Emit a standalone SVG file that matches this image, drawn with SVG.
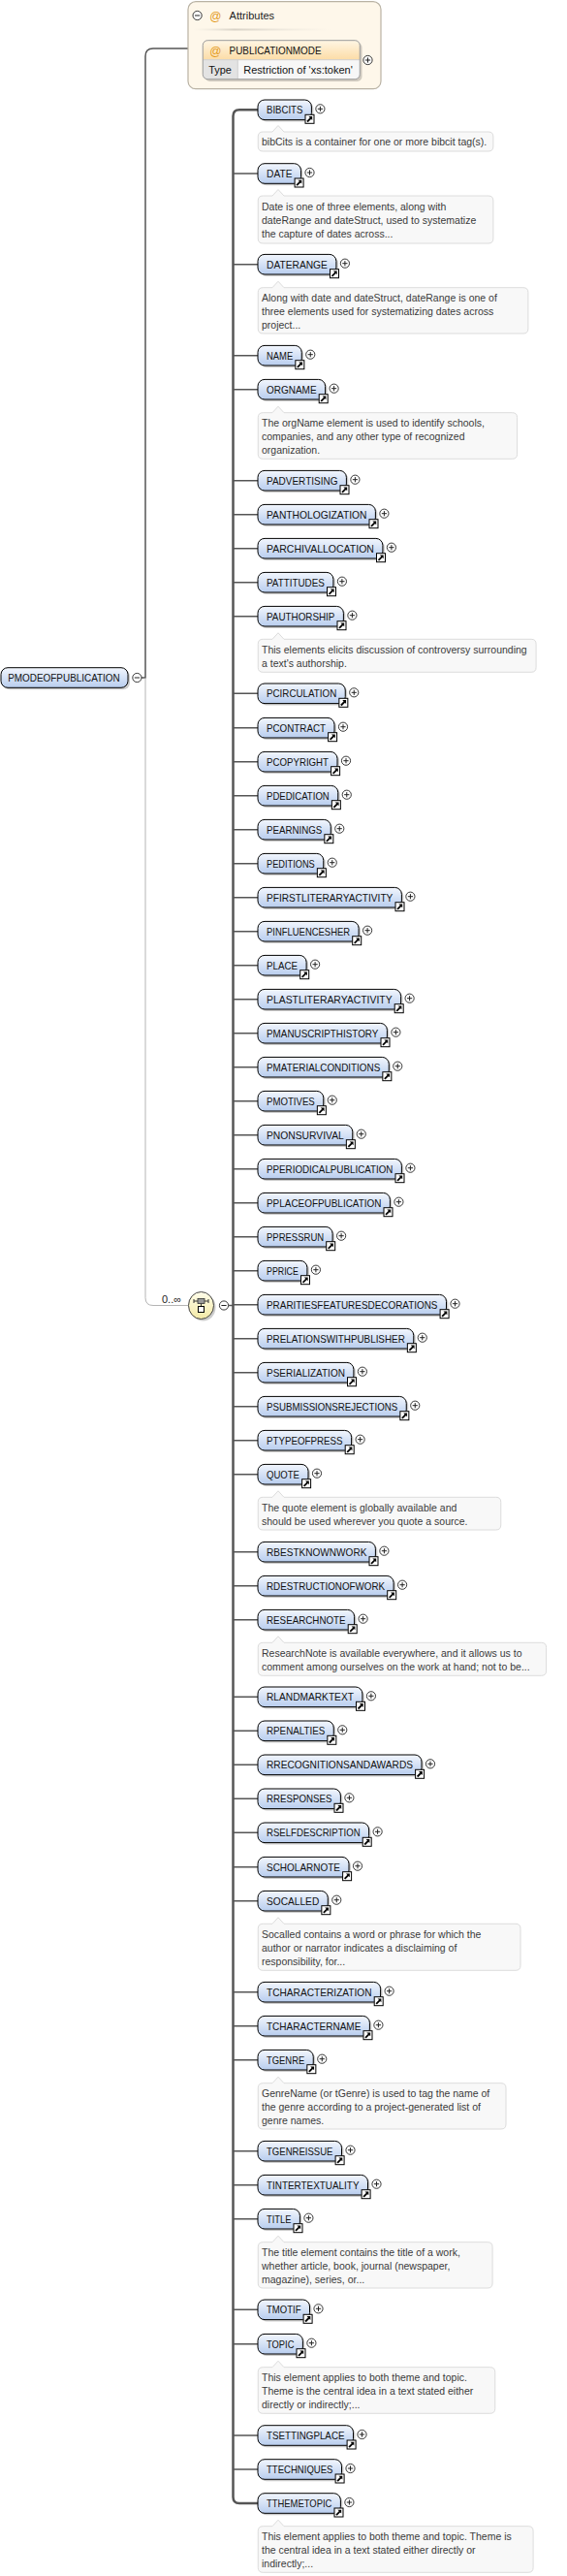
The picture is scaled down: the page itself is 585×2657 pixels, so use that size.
<svg xmlns="http://www.w3.org/2000/svg" xmlns:xlink="http://www.w3.org/1999/xlink" width="585" height="2657" viewBox="0 0 585 2657">
<style>
.box{fill:url(#nodeFill);stroke:#000;stroke-width:1}
.sh{fill:#000;opacity:.2}
.lbl{font-family:"Liberation Sans",Arial,sans-serif;font-size:11px;fill:#111}
.doc path{fill:#f8f8f8;stroke:#dcdcdc;stroke-width:1}
.doc text{font-family:"Liberation Sans",Arial,sans-serif;font-size:10.5px;fill:#3a3a3a}
.conn{fill:none;stroke:#555;stroke-width:1.5}
.bus{fill:none;stroke:#555;stroke-width:2.5}
.light{fill:none;stroke:#b4b4b4;stroke-width:1}
.small{font-family:"Liberation Sans",Arial,sans-serif;font-size:11px;fill:#222}
.at{font-family:"Liberation Sans",Arial,sans-serif;font-size:12px;fill:#e39a1c;text-anchor:middle}
</style>
<defs>
<linearGradient id="nodeFill" x1="0" y1="0" x2="0" y2="1">
<stop offset="0" stop-color="#f2f6fd"/>
<stop offset="1" stop-color="#b8cdee"/>
</linearGradient>
<linearGradient id="attrHead" x1="0" y1="0" x2="0" y2="1">
<stop offset="0" stop-color="#fff6e4"/>
<stop offset="1" stop-color="#fcdca6"/>
</linearGradient>
<linearGradient id="seqFill" x1="0" y1="0" x2="0" y2="1">
<stop offset="0" stop-color="#fffdea"/>
<stop offset="1" stop-color="#f3e9a6"/>
</linearGradient>
<linearGradient id="sep" x1="0" y1="0" x2="1" y2="0">
<stop offset="0" stop-color="#e8e4dc" stop-opacity="0"/>
<stop offset=".3" stop-color="#d8d2c6"/>
<stop offset="1" stop-color="#e8e4dc" stop-opacity="0"/>
</linearGradient>
<g id="link"><rect width="9" height="9" fill="#fff" stroke="#000" stroke-width="1"/><path d="M2 7.2L6 3.2" stroke="#000" stroke-width="1.8"/><path d="M3.4 1.8H7.2V5.6Z" fill="#000"/></g>
<g id="plus"><circle r="4.6" fill="#fff" stroke="#222" stroke-width=".9"/><path d="M-2.6 0H2.6M0 -2.6V2.6" stroke="#222" stroke-width="1"/></g>
<g id="minus"><circle r="4.6" fill="#fff" stroke="#222" stroke-width=".9"/><path d="M-2.6 0H2.6" stroke="#222" stroke-width="1"/></g>
</defs>
<rect width="585" height="2657" fill="#fff"/>

<g id="connectors">
<path class="conn" d="M146 699H150V58Q150 50 158 50H194"/>
<path class="light" d="M150 699V1338.5Q150 1346.5 158 1346.5H194"/>
<path class="bus" d="M266 113.3H247Q240.5 113.3 240.5 119.8V2575.5Q240.5 2582 247 2582H266"/>
<path class="conn" d="M235.5 1346.5H240.5"/>
<path class="conn" d="M240.5 179H266M240.5 272.7H266M240.5 366.7H266M240.5 401.7H266M240.5 495.7H266M240.5 530.7H266M240.5 565.7H266M240.5 600.7H266M240.5 635.7H266M240.5 715.3H266M240.5 750.7H266M240.5 785.7H266M240.5 820.7H266M240.5 855.7H266M240.5 890.7H266M240.5 925.7H266M240.5 960.7H266M240.5 995.7H266M240.5 1030.7H266M240.5 1065.7H266M240.5 1100.7H266M240.5 1135.7H266M240.5 1170.7H266M240.5 1205.7H266M240.5 1240.7H266M240.5 1275.7H266M240.5 1310.7H266M240.5 1345.7H266M240.5 1380.7H266M240.5 1415.7H266M240.5 1450.7H266M240.5 1485.7H266M240.5 1520.7H266M240.5 1600.7H266M240.5 1635.7H266M240.5 1670.7H266M240.5 1750.3H266M240.5 1785.3H266M240.5 1820.3H266M240.5 1855.3H266M240.5 1890.3H266M240.5 1925.7H266M240.5 1960.7H266M240.5 2054.7H266M240.5 2089.7H266M240.5 2124.7H266M240.5 2218.7H266M240.5 2253.7H266M240.5 2288.7H266M240.5 2382.3H266M240.5 2417.7H266M240.5 2512H266M240.5 2547H266"/>
<text class="small" x="167" y="1343.5" font-size="10.5">0..∞</text>
</g>

<g id="attributes">
<rect x="194" y="1.7" width="199" height="90" rx="8" fill="#fef7ea" stroke="#b9b2a4" stroke-width="1.2"/>
<use href="#minus" x="203.6" y="16"/>
<text class="at" x="222.4" y="20.5">@</text>
<text class="small" x="236.6" y="20">Attributes</text>
<rect x="199" y="29.5" width="142" height="2" fill="url(#sep)"/>
<g id="attr-PUBLICATIONMODE">
<rect x="211.5" y="44" width="162" height="40" rx="5" fill="#000" opacity=".18"/>
<rect x="209.25" y="41.7" width="162" height="40" rx="5" fill="#f7f7f7"/>
<path d="M209.25 61.7V46.7Q209.25 41.7 214.25 41.7H366.25Q371.25 41.7 371.25 46.7V61.7Z" fill="url(#attrHead)"/>
<path d="M209.25 61.7H245.25V81.7H214.25Q209.25 81.7 209.25 76.7Z" fill="#e3e3e3"/>
<path d="M209.25 61.7H371.25M245.25 61.7V81.7" stroke="#cfcfcf" stroke-width="1" fill="none"/>
<rect x="209.25" y="41.7" width="162" height="40" rx="5" fill="none" stroke="#9a9a9a" stroke-width="1"/>
<text class="at" x="222.4" y="56.5">@</text>
<text class="lbl" x="236.6" y="56" textLength="94.9" lengthAdjust="spacingAndGlyphs">PUBLICATIONMODE</text>
<text class="lbl" x="215.25" y="76" textLength="23.6" lengthAdjust="spacingAndGlyphs">Type</text>
<text class="lbl" x="251.25" y="76" textLength="112.5" lengthAdjust="spacingAndGlyphs">Restriction of 'xs:token'</text>
<use href="#plus" x="379.5" y="62"/>
</g>
</g>

<g id="n-PMODEOFPUBLICATION">
<rect class="sh" x="3" y="690.7" width="131" height="20.6" rx="7"/>
<rect class="box" x="1" y="688.7" width="131" height="20.6" rx="7"/>
<text class="lbl" x="8.25" y="703" textLength="115.5" lengthAdjust="spacingAndGlyphs">PMODEOFPUBLICATION</text>
<use href="#minus" x="141.4" y="699"/>
</g>

<g id="sequence">
<ellipse cx="209.5" cy="1348.5" rx="13" ry="14" fill="#000" opacity=".2"/>
<ellipse cx="207.5" cy="1346.5" rx="13" ry="14" fill="url(#seqFill)" stroke="#444" stroke-width="1"/>
<path d="M200 1342H215M200 1340V1344M215 1340V1344M207.5 1344.5V1347.5" stroke="#333" stroke-width="1" fill="none"/>
<rect x="204" y="1339.5" width="7" height="5" fill="#999" stroke="#333" stroke-width=".8"/>
<rect x="204.5" y="1347.5" width="6" height="6" fill="#fff" stroke="#000" stroke-width="1"/>
<use href="#minus" x="231" y="1346.5"/>
</g>

<g id="n-BIBCITS"><rect class="sh" x="268" y="105" width="55.4" height="20.6" rx="7"/><rect class="box" x="266" y="103" width="55.4" height="20.6" rx="7"/><text class="lbl" x="275" y="117.3" textLength="37.4" lengthAdjust="spacingAndGlyphs">BIBCITS</text><use href="#link" x="315" y="118.3"/><use href="#plus" x="330.4" y="112.3"/>
<g class="doc"><path d="M271.25 136H281L287 129.5L293 136H503.9Q508.9 136 508.9 141V151Q508.9 156 503.9 156H271.25Q266.25 156 266.25 151V141Q266.25 136 271.25 136Z"/><text x="270" y="150.2">bibCits is a container for one or more bibcit tag(s).</text></g></g>

<g id="n-DATE"><rect class="sh" x="268" y="170.7" width="44.5" height="20.6" rx="7"/><rect class="box" x="266" y="168.7" width="44.5" height="20.6" rx="7"/><text class="lbl" x="275" y="183" textLength="26.5" lengthAdjust="spacingAndGlyphs">DATE</text><use href="#link" x="304.1" y="184"/><use href="#plus" x="319.5" y="178"/>
<g class="doc"><path d="M271.25 202H281L287 195.5L293 202H503.9Q508.9 202 508.9 207V246Q508.9 251 503.9 251H271.25Q266.25 251 266.25 246V207Q266.25 202 271.25 202Z"/><text x="270" y="216.5">Date is one of three elements, along with</text><text x="270" y="230.5">dateRange and dateStruct, used to systematize</text><text x="270" y="244.5">the capture of dates across...</text></g></g>

<g id="n-DATERANGE"><rect class="sh" x="268" y="264.4" width="80.9" height="20.6" rx="7"/><rect class="box" x="266" y="262.4" width="80.9" height="20.6" rx="7"/><text class="lbl" x="275" y="276.7" textLength="62.9" lengthAdjust="spacingAndGlyphs">DATERANGE</text><use href="#link" x="340.5" y="277.7"/><use href="#plus" x="355.9" y="271.7"/>
<g class="doc"><path d="M271.25 296.7H281L287 290.2L293 296.7H539.9Q544.9 296.7 544.9 301.7V339Q544.9 344 539.9 344H271.25Q266.25 344 266.25 339V301.7Q266.25 296.7 271.25 296.7Z"/><text x="270" y="311.2">Along with date and dateStruct, dateRange is one of</text><text x="270" y="325.2">three elements used for systematizing dates across</text><text x="270" y="339.2">project...</text></g></g>

<g id="n-NAME"><rect class="sh" x="268" y="358.4" width="45.25" height="20.6" rx="7"/><rect class="box" x="266" y="356.4" width="45.25" height="20.6" rx="7"/><text class="lbl" x="275" y="370.7" textLength="27.25" lengthAdjust="spacingAndGlyphs">NAME</text><use href="#link" x="304.85" y="371.7"/><use href="#plus" x="320.25" y="365.7"/></g>

<g id="n-ORGNAME"><rect class="sh" x="268" y="393.4" width="69.6" height="20.6" rx="7"/><rect class="box" x="266" y="391.4" width="69.6" height="20.6" rx="7"/><text class="lbl" x="275" y="405.7" textLength="51.6" lengthAdjust="spacingAndGlyphs">ORGNAME</text><use href="#link" x="329.2" y="406.7"/><use href="#plus" x="344.6" y="400.7"/>
<g class="doc"><path d="M271.25 425.7H281L287 419.2L293 425.7H528.6Q533.6 425.7 533.6 430.7V468.3Q533.6 473.3 528.6 473.3H271.25Q266.25 473.3 266.25 468.3V430.7Q266.25 425.7 271.25 425.7Z"/><text x="270" y="440.2">The orgName element is used to identify schools,</text><text x="270" y="454.2">companies, and any other type of recognized</text><text x="270" y="468.2">organization.</text></g></g>

<g id="n-PADVERTISING"><rect class="sh" x="268" y="487.4" width="91.4" height="20.6" rx="7"/><rect class="box" x="266" y="485.4" width="91.4" height="20.6" rx="7"/><text class="lbl" x="275" y="499.7" textLength="73.4" lengthAdjust="spacingAndGlyphs">PADVERTISING</text><use href="#link" x="351" y="500.7"/><use href="#plus" x="366.4" y="494.7"/></g>

<g id="n-PANTHOLOGIZATION"><rect class="sh" x="268" y="522.4" width="121.4" height="20.6" rx="7"/><rect class="box" x="266" y="520.4" width="121.4" height="20.6" rx="7"/><text class="lbl" x="275" y="534.7" textLength="103.4" lengthAdjust="spacingAndGlyphs">PANTHOLOGIZATION</text><use href="#link" x="381" y="535.7"/><use href="#plus" x="396.4" y="529.7"/></g>

<g id="n-PARCHIVALLOCATION"><rect class="sh" x="268" y="557.4" width="128.9" height="20.6" rx="7"/><rect class="box" x="266" y="555.4" width="128.9" height="20.6" rx="7"/><text class="lbl" x="275" y="569.7" textLength="110.9" lengthAdjust="spacingAndGlyphs">PARCHIVALLOCATION</text><use href="#link" x="388.5" y="570.7"/><use href="#plus" x="403.9" y="564.7"/></g>

<g id="n-PATTITUDES"><rect class="sh" x="268" y="592.4" width="77.9" height="20.6" rx="7"/><rect class="box" x="266" y="590.4" width="77.9" height="20.6" rx="7"/><text class="lbl" x="275" y="604.7" textLength="59.9" lengthAdjust="spacingAndGlyphs">PATTITUDES</text><use href="#link" x="337.5" y="605.7"/><use href="#plus" x="352.9" y="599.7"/></g>

<g id="n-PAUTHORSHIP"><rect class="sh" x="268" y="627.4" width="88.4" height="20.6" rx="7"/><rect class="box" x="266" y="625.4" width="88.4" height="20.6" rx="7"/><text class="lbl" x="275" y="639.7" textLength="70.4" lengthAdjust="spacingAndGlyphs">PAUTHORSHIP</text><use href="#link" x="348" y="640.7"/><use href="#plus" x="363.4" y="634.7"/>
<g class="doc"><path d="M271.25 659.3H281L287 652.8L293 659.3H548.1Q553.1 659.3 553.1 664.3V688.3Q553.1 693.3 548.1 693.3H271.25Q266.25 693.3 266.25 688.3V664.3Q266.25 659.3 271.25 659.3Z"/><text x="270" y="673.8">This elements elicits discussion of controversy surrounding</text><text x="270" y="687.8">a text's authorship.</text></g></g>

<g id="n-PCIRCULATION"><rect class="sh" x="268" y="707" width="90.25" height="20.6" rx="7"/><rect class="box" x="266" y="705" width="90.25" height="20.6" rx="7"/><text class="lbl" x="275" y="719.3" textLength="72.25" lengthAdjust="spacingAndGlyphs">PCIRCULATION</text><use href="#link" x="349.85" y="720.3"/><use href="#plus" x="365.25" y="714.3"/></g>

<g id="n-PCONTRACT"><rect class="sh" x="268" y="742.4" width="79" height="20.6" rx="7"/><rect class="box" x="266" y="740.4" width="79" height="20.6" rx="7"/><text class="lbl" x="275" y="754.7" textLength="61" lengthAdjust="spacingAndGlyphs">PCONTRACT</text><use href="#link" x="338.6" y="755.7"/><use href="#plus" x="354" y="749.7"/></g>

<g id="n-PCOPYRIGHT"><rect class="sh" x="268" y="777.4" width="82" height="20.6" rx="7"/><rect class="box" x="266" y="775.4" width="82" height="20.6" rx="7"/><text class="lbl" x="275" y="789.7" textLength="64" lengthAdjust="spacingAndGlyphs">PCOPYRIGHT</text><use href="#link" x="341.6" y="790.7"/><use href="#plus" x="357" y="784.7"/></g>

<g id="n-PDEDICATION"><rect class="sh" x="268" y="812.4" width="82.75" height="20.6" rx="7"/><rect class="box" x="266" y="810.4" width="82.75" height="20.6" rx="7"/><text class="lbl" x="275" y="824.7" textLength="64.75" lengthAdjust="spacingAndGlyphs">PDEDICATION</text><use href="#link" x="342.35" y="825.7"/><use href="#plus" x="357.75" y="819.7"/></g>

<g id="n-PEARNINGS"><rect class="sh" x="268" y="847.4" width="75.25" height="20.6" rx="7"/><rect class="box" x="266" y="845.4" width="75.25" height="20.6" rx="7"/><text class="lbl" x="275" y="859.7" textLength="57.25" lengthAdjust="spacingAndGlyphs">PEARNINGS</text><use href="#link" x="334.85" y="860.7"/><use href="#plus" x="350.25" y="854.7"/></g>

<g id="n-PEDITIONS"><rect class="sh" x="268" y="882.4" width="67.75" height="20.6" rx="7"/><rect class="box" x="266" y="880.4" width="67.75" height="20.6" rx="7"/><text class="lbl" x="275" y="894.7" textLength="49.75" lengthAdjust="spacingAndGlyphs">PEDITIONS</text><use href="#link" x="327.35" y="895.7"/><use href="#plus" x="342.75" y="889.7"/></g>

<g id="n-PFIRSTLITERARYACTIVITY"><rect class="sh" x="268" y="917.4" width="148.4" height="20.6" rx="7"/><rect class="box" x="266" y="915.4" width="148.4" height="20.6" rx="7"/><text class="lbl" x="275" y="929.7" textLength="130.4" lengthAdjust="spacingAndGlyphs">PFIRSTLITERARYACTIVITY</text><use href="#link" x="408" y="930.7"/><use href="#plus" x="423.4" y="924.7"/></g>

<g id="n-PINFLUENCESHER"><rect class="sh" x="268" y="952.4" width="104.1" height="20.6" rx="7"/><rect class="box" x="266" y="950.4" width="104.1" height="20.6" rx="7"/><text class="lbl" x="275" y="964.7" textLength="86.1" lengthAdjust="spacingAndGlyphs">PINFLUENCESHER</text><use href="#link" x="363.7" y="965.7"/><use href="#plus" x="379.1" y="959.7"/></g>

<g id="n-PLACE"><rect class="sh" x="268" y="987.4" width="50.1" height="20.6" rx="7"/><rect class="box" x="266" y="985.4" width="50.1" height="20.6" rx="7"/><text class="lbl" x="275" y="999.7" textLength="32.1" lengthAdjust="spacingAndGlyphs">PLACE</text><use href="#link" x="309.7" y="1000.7"/><use href="#plus" x="325.1" y="994.7"/></g>

<g id="n-PLASTLITERARYACTIVITY"><rect class="sh" x="268" y="1022.4" width="147.6" height="20.6" rx="7"/><rect class="box" x="266" y="1020.4" width="147.6" height="20.6" rx="7"/><text class="lbl" x="275" y="1034.7" textLength="129.6" lengthAdjust="spacingAndGlyphs">PLASTLITERARYACTIVITY</text><use href="#link" x="407.2" y="1035.7"/><use href="#plus" x="422.6" y="1029.7"/></g>

<g id="n-PMANUSCRIPTHISTORY"><rect class="sh" x="268" y="1057.4" width="133.4" height="20.6" rx="7"/><rect class="box" x="266" y="1055.4" width="133.4" height="20.6" rx="7"/><text class="lbl" x="275" y="1069.7" textLength="115.4" lengthAdjust="spacingAndGlyphs">PMANUSCRIPTHISTORY</text><use href="#link" x="393" y="1070.7"/><use href="#plus" x="408.4" y="1064.7"/></g>

<g id="n-PMATERIALCONDITIONS"><rect class="sh" x="268" y="1092.4" width="135.25" height="20.6" rx="7"/><rect class="box" x="266" y="1090.4" width="135.25" height="20.6" rx="7"/><text class="lbl" x="275" y="1104.7" textLength="117.25" lengthAdjust="spacingAndGlyphs">PMATERIALCONDITIONS</text><use href="#link" x="394.85" y="1105.7"/><use href="#plus" x="410.25" y="1099.7"/></g>

<g id="n-PMOTIVES"><rect class="sh" x="268" y="1127.4" width="67.75" height="20.6" rx="7"/><rect class="box" x="266" y="1125.4" width="67.75" height="20.6" rx="7"/><text class="lbl" x="275" y="1139.7" textLength="49.75" lengthAdjust="spacingAndGlyphs">PMOTIVES</text><use href="#link" x="327.35" y="1140.7"/><use href="#plus" x="342.75" y="1134.7"/></g>

<g id="n-PNONSURVIVAL"><rect class="sh" x="268" y="1162.4" width="97.75" height="20.6" rx="7"/><rect class="box" x="266" y="1160.4" width="97.75" height="20.6" rx="7"/><text class="lbl" x="275" y="1174.7" textLength="79.75" lengthAdjust="spacingAndGlyphs">PNONSURVIVAL</text><use href="#link" x="357.35" y="1175.7"/><use href="#plus" x="372.75" y="1169.7"/></g>

<g id="n-PPERIODICALPUBLICATION"><rect class="sh" x="268" y="1197.4" width="148.4" height="20.6" rx="7"/><rect class="box" x="266" y="1195.4" width="148.4" height="20.6" rx="7"/><text class="lbl" x="275" y="1209.7" textLength="130.4" lengthAdjust="spacingAndGlyphs">PPERIODICALPUBLICATION</text><use href="#link" x="408" y="1210.7"/><use href="#plus" x="423.4" y="1204.7"/></g>

<g id="n-PPLACEOFPUBLICATION"><rect class="sh" x="268" y="1232.4" width="136.4" height="20.6" rx="7"/><rect class="box" x="266" y="1230.4" width="136.4" height="20.6" rx="7"/><text class="lbl" x="275" y="1244.7" textLength="118.4" lengthAdjust="spacingAndGlyphs">PPLACEOFPUBLICATION</text><use href="#link" x="396" y="1245.7"/><use href="#plus" x="411.4" y="1239.7"/></g>

<g id="n-PPRESSRUN"><rect class="sh" x="268" y="1267.4" width="77.1" height="20.6" rx="7"/><rect class="box" x="266" y="1265.4" width="77.1" height="20.6" rx="7"/><text class="lbl" x="275" y="1279.7" textLength="59.1" lengthAdjust="spacingAndGlyphs">PPRESSRUN</text><use href="#link" x="336.7" y="1280.7"/><use href="#plus" x="352.1" y="1274.7"/></g>

<g id="n-PPRICE"><rect class="sh" x="268" y="1302.4" width="50.9" height="20.6" rx="7"/><rect class="box" x="266" y="1300.4" width="50.9" height="20.6" rx="7"/><text class="lbl" x="275" y="1314.7" textLength="32.9" lengthAdjust="spacingAndGlyphs">PPRICE</text><use href="#link" x="310.5" y="1315.7"/><use href="#plus" x="325.9" y="1309.7"/></g>

<g id="n-PRARITIESFEATURESDECORATIONS"><rect class="sh" x="268" y="1337.4" width="194.5" height="20.6" rx="7"/><rect class="box" x="266" y="1335.4" width="194.5" height="20.6" rx="7"/><text class="lbl" x="275" y="1349.7" textLength="176.5" lengthAdjust="spacingAndGlyphs">PRARITIESFEATURESDECORATIONS</text><use href="#link" x="454.1" y="1350.7"/><use href="#plus" x="469.5" y="1344.7"/></g>

<g id="n-PRELATIONSWITHPUBLISHER"><rect class="sh" x="268" y="1372.4" width="160.75" height="20.6" rx="7"/><rect class="box" x="266" y="1370.4" width="160.75" height="20.6" rx="7"/><text class="lbl" x="275" y="1384.7" textLength="142.75" lengthAdjust="spacingAndGlyphs">PRELATIONSWITHPUBLISHER</text><use href="#link" x="420.35" y="1385.7"/><use href="#plus" x="435.75" y="1379.7"/></g>

<g id="n-PSERIALIZATION"><rect class="sh" x="268" y="1407.4" width="98.9" height="20.6" rx="7"/><rect class="box" x="266" y="1405.4" width="98.9" height="20.6" rx="7"/><text class="lbl" x="275" y="1419.7" textLength="80.9" lengthAdjust="spacingAndGlyphs">PSERIALIZATION</text><use href="#link" x="358.5" y="1420.7"/><use href="#plus" x="373.9" y="1414.7"/></g>

<g id="n-PSUBMISSIONSREJECTIONS"><rect class="sh" x="268" y="1442.4" width="153.25" height="20.6" rx="7"/><rect class="box" x="266" y="1440.4" width="153.25" height="20.6" rx="7"/><text class="lbl" x="275" y="1454.7" textLength="135.25" lengthAdjust="spacingAndGlyphs">PSUBMISSIONSREJECTIONS</text><use href="#link" x="412.85" y="1455.7"/><use href="#plus" x="428.25" y="1449.7"/></g>

<g id="n-PTYPEOFPRESS"><rect class="sh" x="268" y="1477.4" width="96.6" height="20.6" rx="7"/><rect class="box" x="266" y="1475.4" width="96.6" height="20.6" rx="7"/><text class="lbl" x="275" y="1489.7" textLength="78.6" lengthAdjust="spacingAndGlyphs">PTYPEOFPRESS</text><use href="#link" x="356.2" y="1490.7"/><use href="#plus" x="371.6" y="1484.7"/></g>

<g id="n-QUOTE"><rect class="sh" x="268" y="1512.4" width="52" height="20.6" rx="7"/><rect class="box" x="266" y="1510.4" width="52" height="20.6" rx="7"/><text class="lbl" x="275" y="1524.7" textLength="34" lengthAdjust="spacingAndGlyphs">QUOTE</text><use href="#link" x="311.6" y="1525.7"/><use href="#plus" x="327" y="1519.7"/>
<g class="doc"><path d="M271.25 1544.3H281L287 1537.8L293 1544.3H511.75Q516.75 1544.3 516.75 1549.3V1573Q516.75 1578 511.75 1578H271.25Q266.25 1578 266.25 1573V1549.3Q266.25 1544.3 271.25 1544.3Z"/><text x="270" y="1558.8">The quote element is globally available and</text><text x="270" y="1572.8">should be used wherever you quote a source.</text></g></g>

<g id="n-RBESTKNOWNWORK"><rect class="sh" x="268" y="1592.4" width="121.4" height="20.6" rx="7"/><rect class="box" x="266" y="1590.4" width="121.4" height="20.6" rx="7"/><text class="lbl" x="275" y="1604.7" textLength="103.4" lengthAdjust="spacingAndGlyphs">RBESTKNOWNWORK</text><use href="#link" x="381" y="1605.7"/><use href="#plus" x="396.4" y="1599.7"/></g>

<g id="n-RDESTRUCTIONOFWORK"><rect class="sh" x="268" y="1627.4" width="140.1" height="20.6" rx="7"/><rect class="box" x="266" y="1625.4" width="140.1" height="20.6" rx="7"/><text class="lbl" x="275" y="1639.7" textLength="122.1" lengthAdjust="spacingAndGlyphs">RDESTRUCTIONOFWORK</text><use href="#link" x="399.7" y="1640.7"/><use href="#plus" x="415.1" y="1634.7"/></g>

<g id="n-RESEARCHNOTE"><rect class="sh" x="268" y="1662.4" width="99.6" height="20.6" rx="7"/><rect class="box" x="266" y="1660.4" width="99.6" height="20.6" rx="7"/><text class="lbl" x="275" y="1674.7" textLength="81.6" lengthAdjust="spacingAndGlyphs">RESEARCHNOTE</text><use href="#link" x="359.2" y="1675.7"/><use href="#plus" x="374.6" y="1669.7"/>
<g class="doc"><path d="M271.25 1694.3H281L287 1687.8L293 1694.3H558.6Q563.6 1694.3 563.6 1699.3V1723.3Q563.6 1728.3 558.6 1728.3H271.25Q266.25 1728.3 266.25 1723.3V1699.3Q266.25 1694.3 271.25 1694.3Z"/><text x="270" y="1708.8">ResearchNote is available everywhere, and it allows us to</text><text x="270" y="1722.8">comment among ourselves on the work at hand; not to be...</text></g></g>

<g id="n-RLANDMARKTEXT"><rect class="sh" x="268" y="1742" width="107.9" height="20.6" rx="7"/><rect class="box" x="266" y="1740" width="107.9" height="20.6" rx="7"/><text class="lbl" x="275" y="1754.3" textLength="89.9" lengthAdjust="spacingAndGlyphs">RLANDMARKTEXT</text><use href="#link" x="367.5" y="1755.3"/><use href="#plus" x="382.9" y="1749.3"/></g>

<g id="n-RPENALTIES"><rect class="sh" x="268" y="1777" width="78.25" height="20.6" rx="7"/><rect class="box" x="266" y="1775" width="78.25" height="20.6" rx="7"/><text class="lbl" x="275" y="1789.3" textLength="60.25" lengthAdjust="spacingAndGlyphs">RPENALTIES</text><use href="#link" x="337.85" y="1790.3"/><use href="#plus" x="353.25" y="1784.3"/></g>

<g id="n-RRECOGNITIONSANDAWARDS"><rect class="sh" x="268" y="1812" width="169" height="20.6" rx="7"/><rect class="box" x="266" y="1810" width="169" height="20.6" rx="7"/><text class="lbl" x="275" y="1824.3" textLength="151" lengthAdjust="spacingAndGlyphs">RRECOGNITIONSANDAWARDS</text><use href="#link" x="428.6" y="1825.3"/><use href="#plus" x="444" y="1819.3"/></g>

<g id="n-RRESPONSES"><rect class="sh" x="268" y="1847" width="85.4" height="20.6" rx="7"/><rect class="box" x="266" y="1845" width="85.4" height="20.6" rx="7"/><text class="lbl" x="275" y="1859.3" textLength="67.4" lengthAdjust="spacingAndGlyphs">RRESPONSES</text><use href="#link" x="345" y="1860.3"/><use href="#plus" x="360.4" y="1854.3"/></g>

<g id="n-RSELFDESCRIPTION"><rect class="sh" x="268" y="1882" width="114.6" height="20.6" rx="7"/><rect class="box" x="266" y="1880" width="114.6" height="20.6" rx="7"/><text class="lbl" x="275" y="1894.3" textLength="96.6" lengthAdjust="spacingAndGlyphs">RSELFDESCRIPTION</text><use href="#link" x="374.2" y="1895.3"/><use href="#plus" x="389.6" y="1889.3"/></g>

<g id="n-SCHOLARNOTE"><rect class="sh" x="268" y="1917.4" width="94" height="20.6" rx="7"/><rect class="box" x="266" y="1915.4" width="94" height="20.6" rx="7"/><text class="lbl" x="275" y="1929.7" textLength="76" lengthAdjust="spacingAndGlyphs">SCHOLARNOTE</text><use href="#link" x="353.6" y="1930.7"/><use href="#plus" x="369" y="1924.7"/></g>

<g id="n-SOCALLED"><rect class="sh" x="268" y="1952.4" width="72.25" height="20.6" rx="7"/><rect class="box" x="266" y="1950.4" width="72.25" height="20.6" rx="7"/><text class="lbl" x="275" y="1964.7" textLength="54.25" lengthAdjust="spacingAndGlyphs">SOCALLED</text><use href="#link" x="331.85" y="1965.7"/><use href="#plus" x="347.25" y="1959.7"/>
<g class="doc"><path d="M271.25 1984.3H281L287 1977.8L293 1984.3H532Q537 1984.3 537 1989.3V2027.3Q537 2032.3 532 2032.3H271.25Q266.25 2032.3 266.25 2027.3V1989.3Q266.25 1984.3 271.25 1984.3Z"/><text x="270" y="1998.8">Socalled contains a word or phrase for which the</text><text x="270" y="2012.8">author or narrator indicates a disclaiming of</text><text x="270" y="2026.8">responsibility, for...</text></g></g>

<g id="n-TCHARACTERIZATION"><rect class="sh" x="268" y="2046.4" width="126.6" height="20.6" rx="7"/><rect class="box" x="266" y="2044.4" width="126.6" height="20.6" rx="7"/><text class="lbl" x="275" y="2058.7" textLength="108.6" lengthAdjust="spacingAndGlyphs">TCHARACTERIZATION</text><use href="#link" x="386.2" y="2059.7"/><use href="#plus" x="401.6" y="2053.7"/></g>

<g id="n-TCHARACTERNAME"><rect class="sh" x="268" y="2081.4" width="115.4" height="20.6" rx="7"/><rect class="box" x="266" y="2079.4" width="115.4" height="20.6" rx="7"/><text class="lbl" x="275" y="2093.7" textLength="97.4" lengthAdjust="spacingAndGlyphs">TCHARACTERNAME</text><use href="#link" x="375" y="2094.7"/><use href="#plus" x="390.4" y="2088.7"/></g>

<g id="n-TGENRE"><rect class="sh" x="268" y="2116.4" width="57.25" height="20.6" rx="7"/><rect class="box" x="266" y="2114.4" width="57.25" height="20.6" rx="7"/><text class="lbl" x="275" y="2128.7" textLength="39.25" lengthAdjust="spacingAndGlyphs">TGENRE</text><use href="#link" x="316.85" y="2129.7"/><use href="#plus" x="332.25" y="2123.7"/>
<g class="doc"><path d="M271.25 2148.7H281L287 2142.2L293 2148.7H517Q522 2148.7 522 2153.7V2191Q522 2196 517 2196H271.25Q266.25 2196 266.25 2191V2153.7Q266.25 2148.7 271.25 2148.7Z"/><text x="270" y="2163.2">GenreName (or tGenre) is used to tag the name of</text><text x="270" y="2177.2">the genre according to a project-generated list of</text><text x="270" y="2191.2">genre names.</text></g></g>

<g id="n-TGENREISSUE"><rect class="sh" x="268" y="2210.4" width="86.5" height="20.6" rx="7"/><rect class="box" x="266" y="2208.4" width="86.5" height="20.6" rx="7"/><text class="lbl" x="275" y="2222.7" textLength="68.5" lengthAdjust="spacingAndGlyphs">TGENREISSUE</text><use href="#link" x="346.1" y="2223.7"/><use href="#plus" x="361.5" y="2217.7"/></g>

<g id="n-TINTERTEXTUALITY"><rect class="sh" x="268" y="2245.4" width="113.5" height="20.6" rx="7"/><rect class="box" x="266" y="2243.4" width="113.5" height="20.6" rx="7"/><text class="lbl" x="275" y="2257.7" textLength="95.5" lengthAdjust="spacingAndGlyphs">TINTERTEXTUALITY</text><use href="#link" x="373.1" y="2258.7"/><use href="#plus" x="388.5" y="2252.7"/></g>

<g id="n-TITLE"><rect class="sh" x="268" y="2280.4" width="43.4" height="20.6" rx="7"/><rect class="box" x="266" y="2278.4" width="43.4" height="20.6" rx="7"/><text class="lbl" x="275" y="2292.7" textLength="25.4" lengthAdjust="spacingAndGlyphs">TITLE</text><use href="#link" x="303" y="2293.7"/><use href="#plus" x="318.4" y="2287.7"/>
<g class="doc"><path d="M271.25 2312.7H281L287 2306.2L293 2312.7H503.1Q508.1 2312.7 508.1 2317.7V2355Q508.1 2360 503.1 2360H271.25Q266.25 2360 266.25 2355V2317.7Q266.25 2312.7 271.25 2312.7Z"/><text x="270" y="2327.2">The title element contains the title of a work,</text><text x="270" y="2341.2">whether article, book, journal (newspaper,</text><text x="270" y="2355.2">magazine), series, or...</text></g></g>

<g id="n-TMOTIF"><rect class="sh" x="268" y="2374" width="53.5" height="20.6" rx="7"/><rect class="box" x="266" y="2372" width="53.5" height="20.6" rx="7"/><text class="lbl" x="275" y="2386.3" textLength="35.5" lengthAdjust="spacingAndGlyphs">TMOTIF</text><use href="#link" x="313.1" y="2387.3"/><use href="#plus" x="328.5" y="2381.3"/></g>

<g id="n-TOPIC"><rect class="sh" x="268" y="2409.4" width="46.4" height="20.6" rx="7"/><rect class="box" x="266" y="2407.4" width="46.4" height="20.6" rx="7"/><text class="lbl" x="275" y="2421.7" textLength="28.4" lengthAdjust="spacingAndGlyphs">TOPIC</text><use href="#link" x="306" y="2422.7"/><use href="#plus" x="321.4" y="2416.7"/>
<g class="doc"><path d="M271.25 2441.7H281L287 2435.2L293 2441.7H505.75Q510.75 2441.7 510.75 2446.7V2484.3Q510.75 2489.3 505.75 2489.3H271.25Q266.25 2489.3 266.25 2484.3V2446.7Q266.25 2441.7 271.25 2441.7Z"/><text x="270" y="2456.2">This element applies to both theme and topic.</text><text x="270" y="2470.2">Theme is the central idea in a text stated either</text><text x="270" y="2484.2">directly or indirectly;...</text></g></g>

<g id="n-TSETTINGPLACE"><rect class="sh" x="268" y="2503.7" width="98.5" height="20.6" rx="7"/><rect class="box" x="266" y="2501.7" width="98.5" height="20.6" rx="7"/><text class="lbl" x="275" y="2516" textLength="80.5" lengthAdjust="spacingAndGlyphs">TSETTINGPLACE</text><use href="#link" x="358.1" y="2517"/><use href="#plus" x="373.5" y="2511"/></g>

<g id="n-TTECHNIQUES"><rect class="sh" x="268" y="2538.7" width="86.5" height="20.6" rx="7"/><rect class="box" x="266" y="2536.7" width="86.5" height="20.6" rx="7"/><text class="lbl" x="275" y="2551" textLength="68.5" lengthAdjust="spacingAndGlyphs">TTECHNIQUES</text><use href="#link" x="346.1" y="2552"/><use href="#plus" x="361.5" y="2546"/></g>

<g id="n-TTHEMETOPIC"><rect class="sh" x="268" y="2573.7" width="85.4" height="20.6" rx="7"/><rect class="box" x="266" y="2571.7" width="85.4" height="20.6" rx="7"/><text class="lbl" x="275" y="2586" textLength="67.4" lengthAdjust="spacingAndGlyphs">TTHEMETOPIC</text><use href="#link" x="345" y="2587"/><use href="#plus" x="360.4" y="2581"/>
<g class="doc"><path d="M271.25 2605.7H281L287 2599.2L293 2605.7H545.1Q550.1 2605.7 550.1 2610.7V2648.3Q550.1 2653.3 545.1 2653.3H271.25Q266.25 2653.3 266.25 2648.3V2610.7Q266.25 2605.7 271.25 2605.7Z"/><text x="270" y="2620.2">This element applies to both theme and topic. Theme is</text><text x="270" y="2634.2">the central idea in a text stated either directly or</text><text x="270" y="2648.2">indirectly;...</text></g></g>
</svg>
